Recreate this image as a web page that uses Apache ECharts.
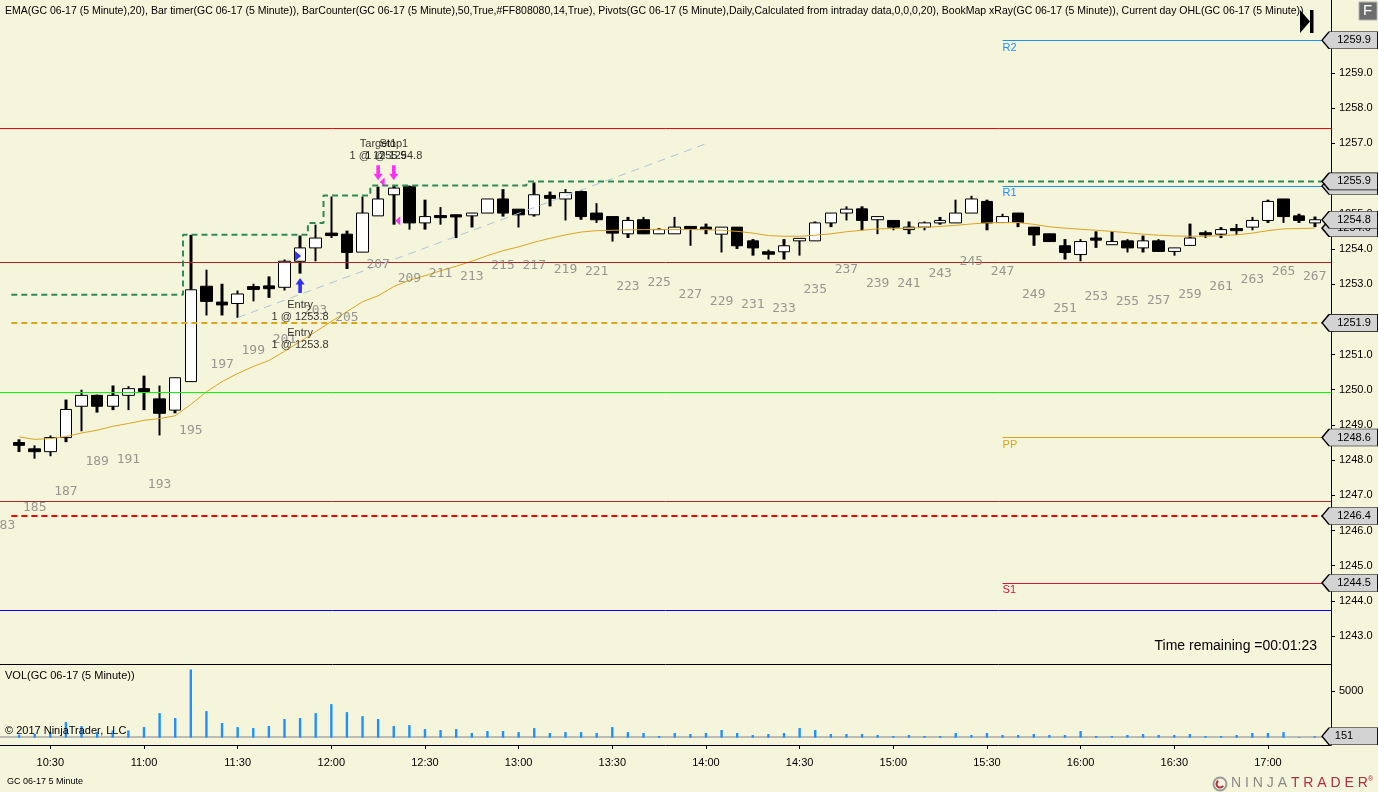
<!DOCTYPE html>
<html>
<head>
<meta charset="utf-8">
<script src="https://cdn.jsdelivr.net/npm/echarts@6/dist/echarts.min.js"></script>
<style>
html,body{margin:0;padding:0;background:#f5f5dc;}
#c{width:1378px;height:792px;}
</style>
</head>
<body>
<div id="c"></div>
<script>
// ---------------- DATA ----------------
const firstBar = 184;
const opens = [1248.50,1248.32,1248.24,1248.64,1249.53,1249.84,1249.53,1249.84,1250.03,1249.74,1249.42,1250.23,1252.94,1252.49,1252.45,1252.93,1252.95,1252.91,1253.65,1254.03,1254.45,1254.42,1253.91,1254.94,1255.54,1255.77,1254.74,1254.95,1254.97,1254.94,1255.02,1255.42,1255.13,1254.97,1255.52,1255.42,1255.63,1255.02,1254.92,1254.43,1254.83,1254.43,1254.43,1254.64,1254.62,1254.42,1254.62,1254.23,1253.92,1253.92,1254.23,1254.23,1254.74,1255.02,1255.14,1254.83,1254.81,1254.55,1254.62,1254.74,1254.74,1255.02,1255.35,1254.75,1255.02,1254.62,1254.43,1254.09,1253.84,1254.31,1254.12,1254.23,1254.03,1254.23,1253.93,1254.10,1254.46,1254.42,1254.58,1254.62,1254.81,1255.42,1254.94,1254.74];
const highs = [1248.59,1248.42,1248.70,1249.72,1250.00,1249.86,1250.12,1250.10,1250.40,1250.12,1250.34,1254.40,1253.41,1253.01,1252.82,1253.01,1253.22,1253.70,1254.38,1254.69,1255.49,1254.52,1255.49,1255.77,1255.80,1255.80,1255.40,1255.19,1254.97,1255.02,1255.42,1255.70,1255.13,1255.89,1255.63,1255.70,1255.66,1255.30,1254.92,1254.91,1254.91,1254.59,1254.91,1254.64,1254.72,1254.62,1254.62,1254.28,1253.98,1254.28,1254.30,1254.78,1255.02,1255.21,1255.21,1254.92,1254.81,1254.78,1254.78,1254.91,1255.40,1255.51,1255.40,1255.00,1255.02,1254.62,1254.43,1254.28,1254.28,1254.50,1254.50,1254.28,1254.38,1254.28,1254.03,1254.72,1254.52,1254.62,1254.71,1254.91,1255.40,1255.42,1255.00,1254.92];
const lows = [1248.23,1248.04,1248.11,1248.51,1248.82,1249.35,1249.42,1249.42,1249.42,1248.70,1249.33,1250.23,1252.11,1252.11,1252.04,1252.51,1252.61,1252.82,1253.30,1253.65,1254.31,1253.43,1253.91,1254.94,1254.69,1254.55,1254.55,1254.69,1254.31,1254.61,1255.02,1254.92,1254.61,1254.92,1255.21,1254.81,1254.83,1254.74,1254.21,1254.31,1254.43,1254.43,1254.43,1254.09,1254.42,1253.90,1254.00,1253.81,1253.70,1253.70,1253.81,1254.23,1254.62,1254.81,1254.53,1254.42,1254.53,1254.42,1254.53,1254.69,1254.74,1255.02,1254.53,1254.75,1254.62,1254.09,1254.21,1253.70,1253.65,1254.03,1254.12,1253.90,1253.90,1253.93,1253.81,1254.10,1254.31,1254.31,1254.40,1254.53,1254.74,1254.74,1254.74,1254.62];
const closes = [1248.42,1248.24,1248.64,1249.44,1249.84,1249.53,1249.84,1250.03,1249.95,1249.33,1250.34,1252.84,1252.51,1252.41,1252.72,1252.85,1252.87,1253.65,1254.03,1254.31,1254.38,1253.90,1255.02,1255.42,1255.73,1254.74,1254.92,1254.89,1254.91,1255.02,1255.42,1255.02,1254.97,1255.54,1255.44,1255.60,1254.92,1254.83,1254.45,1254.81,1254.43,1254.55,1254.62,1254.58,1254.55,1254.62,1254.09,1254.03,1253.85,1254.09,1254.30,1254.74,1255.02,1255.13,1254.81,1254.92,1254.62,1254.62,1254.74,1254.81,1255.02,1255.42,1254.74,1254.92,1254.75,1254.40,1254.21,1253.90,1254.21,1254.25,1254.21,1254.03,1254.23,1253.93,1254.03,1254.31,1254.40,1254.55,1254.52,1254.81,1255.35,1254.92,1254.81,1254.83];
const volumes = [320,430,600,1670,1250,600,780,780,1140,2630,2100,7300,2850,1570,1140,1030,1250,2000,2100,2630,3600,2740,2310,2000,1250,1350,925,820,925,500,710,710,600,1030,500,600,600,500,1140,600,500,180,500,390,500,820,500,285,390,500,1030,820,390,390,390,285,180,285,180,180,500,285,500,285,285,390,285,285,710,180,180,285,390,285,285,390,180,180,285,500,500,600,70,151];
const ema20 = [1248.66,1248.59,1248.61,1248.67,1248.77,1248.85,1248.96,1249.04,1249.13,1249.18,1249.26,1249.58,1249.94,1250.23,1250.46,1250.66,1250.83,1251.09,1251.37,1251.65,1251.94,1252.22,1252.50,1252.67,1252.93,1253.11,1253.24,1253.38,1253.51,1253.65,1253.81,1253.95,1254.06,1254.19,1254.30,1254.40,1254.48,1254.52,1254.53,1254.54,1254.55,1254.55,1254.55,1254.55,1254.55,1254.53,1254.50,1254.45,1254.38,1254.36,1254.36,1254.39,1254.43,1254.49,1254.53,1254.57,1254.58,1254.59,1254.61,1254.64,1254.67,1254.71,1254.74,1254.75,1254.75,1254.70,1254.63,1254.59,1254.56,1254.53,1254.50,1254.46,1254.42,1254.39,1254.37,1254.36,1254.36,1254.38,1254.40,1254.45,1254.52,1254.57,1254.58,1254.59];
const priorBarNo = 183, priorBarLow = 1247.52;

const timeBars = [186,192,198,204,210,216,222,228,234,240,246,252,258,264];
const timeLabels = ['10:30','11:00','11:30','12:00','12:30','13:00','13:30','14:00','14:30','15:00','15:30','16:00','16:30','17:00'];
const priceTicks = [1243,1244,1245,1246,1247,1248,1249,1250,1251,1252,1253,1254,1255,1256,1257,1258,1259];
const volTicks = [5000];

// highest-high step line (bar boundary, level)
const stepBars = [183.5,194.5,202.5,203.5,206.5,216.5];
const stepLevels = [1252.70,1254.40,1254.74,1255.52,1255.80,1255.92];
// trend line
const trendBars = [198,228];
const trendPrices = [1252.05,1256.99];
// pivots
const pivotNames = ['R2','R1','PP','S1'];
const pivotValues = [1259.93,1255.79,1248.64,1244.51];
const pivotStartBar = 247;
// dashed levels
const dashedLevels = [1251.9,1246.41];
const dashedStartBar = 183.5;
// full-width day levels
const dayLevels = [1257.44,1253.63,1249.935,1246.84,1243.74];
const lastVolume = 151;

// trades
const entryBar = 202, entryPrice = 1253.8, entryQty = [1,1];
const exitNames = ['Target1','Stop1'];
const exitBars = [207,208];
const exitPrices = [1255.9,1254.8];

// ---------------- BUILD ----------------
const xMin = 182.776, xMax = 268.04;
const barNo = opens.map((_, i) => firstBar + i);
const idx = b => b - firstBar;

const bodyData = barNo.map((b, i) => [b, opens[i], closes[i], Math.min(opens[i], closes[i]), Math.max(opens[i], closes[i])]);
const wickData = barNo.map((b, i) => [b, lows[i], highs[i], lows[i], highs[i]]);
const emaData = barNo.map((b, i) => [b, ema20[i]]);
const volData = barNo.map((b, i) => [b, volumes[i]]);
const stepData = stepBars.map((b, i) => [b, stepLevels[i]]).concat([[xMax, stepLevels[stepLevels.length - 1]]]);
const trendData = trendBars.map((b, i) => [b, trendPrices[i]]);

const counterData = [[priorBarNo, priorBarLow, priorBarNo]];
barNo.forEach((b, i) => { if (b % 2 === 1) counterData.push([b, lows[i], b]); });

const pivotColors = ['#1e90ff', '#1e90ff', '#daa520', '#dc143c'];
const dayColors = ['#ff0000', '#b22222', '#00ff00', '#a52a2a', '#0000ff'];
const dashedColors = ['#daa520', '#ff0000'];

const markLines = [];
dayLevels.forEach((v, i) => markLines.push({ yAxis: v, lineStyle: { color: dayColors[i], width: 1, type: 'solid' } }));
pivotValues.forEach((v, i) => markLines.push([
  { coord: [pivotStartBar, v], lineStyle: { color: pivotColors[i], width: 1, type: 'solid' },
    label: { show: true, formatter: pivotNames[i], position: 'insideStartBottom', color: pivotColors[i], fontSize: 11, fontFamily: 'Liberation Sans, Arial', distance: [0, 2] } },
  { coord: [xMax, v] }
]));
dashedLevels.forEach((v, i) => markLines.push([
  { coord: [dashedStartBar, v], lineStyle: { color: dashedColors[i], width: 2, type: [6, 4] } },
  { coord: [xMax, v] }
]));

const flagPath = 'path://M0,8 L7,0 L55,0 L55,16 L7,16 Z';
// flags partly hidden behind others
const backFlagValues = [pivotValues[1], ema20[ema20.length - 1]];
// flags in front
const frontFlagValues = [pivotValues[0], stepLevels[stepLevels.length - 1], closes[closes.length - 1], dashedLevels[0], pivotValues[2], dashedLevels[1], pivotValues[3]];
const toFlag = v => ({ coord: [xMax, v], value: v.toFixed(1) });

const FONT = 'Liberation Sans, Arial, sans-serif';
const flagMark = (data, z) => ({ z: z, silent: true, symbol: flagPath, symbolSize: [56, 17], symbolOffset: [19, 0], symbolKeepAspect: false,
  itemStyle: { color: '#d3d3d3', borderColor: '#000', borderWidth: 1 },
  label: { show: true, position: 'inside', offset: [4, 0], color: '#000', fontSize: 11, fontFamily: FONT, formatter: p => p.value },
  data: data });

const lowEntry = lows[idx(entryBar)];
const entryTextData = entryQty.map((q, k) => ({ value: [entryBar, lowEntry], label: { formatter: 'Entry\n' + q + ' @ ' + entryPrice.toFixed(1), offset: [0, 37 + 28 * k] } }));
const exitTextData = exitNames.map((n, k) => ({ value: [exitBars[k], highs[idx(exitBars[0])]], label: { formatter: n + '\n1 @ ' + exitPrices[k].toFixed(1), offset: [0, -37] } }));

const legendText = 'EMA(GC 06-17 (5 Minute),20), Bar timer(GC 06-17 (5 Minute)), BarCounter(GC 06-17 (5 Minute),50,True,#FF808080,14,True), Pivots(GC 06-17 (5 Minute),Daily,Calculated from intraday data,0,0,0,20), BookMap xRay(GC 06-17 (5 Minute)), Current day OHL(GC 06-17 (5 Minute))';

const option = {
  animation: false,
  backgroundColor: '#f5f5dc',
  grid: [
    { left: 0, right: 47, top: 0, bottom: 128 },
    { left: 0, right: 47, top: 664, bottom: 47 }
  ],
  xAxis: [
    { type: 'value', gridIndex: 0, min: xMin, max: xMax, position: 'bottom',
      axisLine: { show: true, onZero: false, lineStyle: { color: '#000', width: 1 } },
      axisTick: { show: false }, axisLabel: { show: false }, splitLine: { show: false } },
    { type: 'value', gridIndex: 1, min: xMin, max: xMax, position: 'bottom',
      axisLine: { show: true, onZero: false, lineStyle: { color: '#000', width: 1 } },
      axisTick: { show: true, inside: false, length: 4, customValues: timeBars, lineStyle: { color: '#000' } },
      axisLabel: { show: true, customValues: timeBars, margin: 12, color: '#000', fontSize: 11, fontFamily: FONT,
        formatter: v => { const k = timeBars.indexOf(Math.round(v)); return k >= 0 ? timeLabels[k] : ''; } },
      splitLine: { show: false } }
  ],
  yAxis: [
    { type: 'value', gridIndex: 0, position: 'right', min: 1242.206, max: 1261.074,
      axisLine: { show: true, lineStyle: { color: '#000', width: 1 } },
      axisTick: { show: true, length: 4, customValues: priceTicks, lineStyle: { color: '#000' } },
      axisLabel: { show: true, customValues: priceTicks, margin: 8, color: '#000', fontSize: 11, fontFamily: FONT, formatter: v => v.toFixed(1) },
      splitLine: { show: false } },
    { type: 'value', gridIndex: 1, position: 'right', min: -782, max: 7891,
      axisLine: { show: true, lineStyle: { color: '#000', width: 1 } },
      axisTick: { show: true, length: 4, customValues: volTicks, lineStyle: { color: '#000' } },
      axisLabel: { show: true, customValues: volTicks, margin: 8, color: '#000', fontSize: 11, fontFamily: FONT, formatter: v => String(v) },
      splitLine: { show: false } }
  ],
  series: [
    { name: 'wicks', type: 'candlestick', xAxisIndex: 0, yAxisIndex: 0, data: wickData, encode: { x: 0, y: [1, 2, 3, 4] },
      barWidth: 3, z: 2, silent: true,
      itemStyle: { color: '#000', color0: '#000', borderColor: '#000', borderColor0: '#000', borderWidth: 0 } },
    { name: 'bodies', type: 'candlestick', xAxisIndex: 0, yAxisIndex: 0, data: bodyData, encode: { x: 0, y: [1, 2, 3, 4] },
      barWidth: 12, z: 3, silent: true,
      itemStyle: { color: '#ffffff', color0: '#000000', borderColor: '#000', borderColor0: '#000', borderWidth: 1 } },
    { name: 'EMA', type: 'line', xAxisIndex: 0, yAxisIndex: 0, data: emaData, showSymbol: false, z: 4, silent: true,
      lineStyle: { color: '#daa520', width: 1 },
      markLine: { silent: true, symbol: ['none', 'none'], animation: false, label: { show: false }, data: markLines } },
    { name: 'step', type: 'line', xAxisIndex: 0, yAxisIndex: 0, data: stepData, step: 'end', showSymbol: false, z: 5, silent: true,
      lineStyle: { color: '#2e8b57', width: 2, type: [6, 4] } },
    { name: 'trend', type: 'line', xAxisIndex: 0, yAxisIndex: 0, data: trendData, showSymbol: false, z: 5, silent: true,
      lineStyle: { color: '#b0c4de', width: 1, type: [8, 6] } },
    { name: 'counter', type: 'scatter', xAxisIndex: 0, yAxisIndex: 0, data: counterData, symbolSize: 0, z: 6, silent: true,
      label: { show: true, position: 'inside', offset: [0, 49], formatter: p => String(p.value[2]), color: '#808080', fontSize: 13, fontFamily: 'DejaVu Sans Mono, monospace' } },
    { name: 'entryArrow', type: 'scatter', xAxisIndex: 0, yAxisIndex: 0, data: [[entryBar, lowEntry]], z: 7, silent: true,
      symbol: 'path://M5,0 L10,6 L7,6 L7,14 L3,14 L3,6 L0,6 Z', symbolSize: [9, 15], symbolOffset: [0, 12], itemStyle: { color: '#0000ff' } },
    { name: 'entryFill', type: 'scatter', xAxisIndex: 0, yAxisIndex: 0, data: [[entryBar, entryPrice]], z: 7, silent: true,
      symbol: 'path://M0,0 L10,6 L0,12 Z', symbolSize: [6, 10], symbolOffset: [-2, 0], itemStyle: { color: '#0000ff' } },
    { name: 'exitArrow', type: 'scatter', xAxisIndex: 0, yAxisIndex: 0, data: exitBars.map(b => [b, highs[idx(exitBars[0])]]), z: 7, silent: true,
      symbol: 'path://M3,0 L7,0 L7,8 L10,8 L5,14 L0,8 L3,8 Z', symbolSize: [9, 15], symbolOffset: [0, -14], itemStyle: { color: '#ff00ff' } },
    { name: 'exitFill', type: 'scatter', xAxisIndex: 0, yAxisIndex: 0, data: exitBars.map((b, k) => [b, exitPrices[k]]), z: 7, silent: true,
      symbol: 'path://M10,0 L0,6 L10,12 Z', symbolSize: [5, 9], symbolOffset: [4, 0], itemStyle: { color: '#ff00ff' } },
    { name: 'tradeText', type: 'scatter', xAxisIndex: 0, yAxisIndex: 0, data: entryTextData.concat(exitTextData), symbolSize: 0, z: 8, silent: true,
      label: { show: true, position: 'inside', color: '#000', fontSize: 11, lineHeight: 12, fontFamily: FONT, align: 'center' } },
    { name: 'flagsBack', type: 'line', xAxisIndex: 0, yAxisIndex: 0, data: [], z: 9, silent: true, markPoint: flagMark(backFlagValues.map(toFlag), 9) },
    { name: 'flagsFront', type: 'line', xAxisIndex: 0, yAxisIndex: 0, data: [], z: 10, silent: true, markPoint: flagMark(frontFlagValues.map(toFlag), 10) },
    { name: 'volLast', type: 'line', xAxisIndex: 1, yAxisIndex: 1, data: [], z: 1, silent: true,
      markLine: { z: 1, silent: true, symbol: ['none', 'none'], label: { show: false }, lineStyle: { color: '#a9a9a9', width: 1.5, type: 'solid' },
        data: [{ yAxis: lastVolume }] } },
    { name: 'VOL', type: 'bar', xAxisIndex: 1, yAxisIndex: 1, data: volData, barWidth: 2.4, z: 3, silent: true,
      itemStyle: { color: '#1e90ff' },
      markPoint: { z: 10, silent: true, symbol: flagPath, symbolSize: [56, 17], symbolOffset: [19, 0], symbolKeepAspect: false,
        itemStyle: { color: '#d3d3d3', borderColor: '#000', borderWidth: 1 },
        label: { show: true, position: 'inside', offset: [-6, 0], color: '#000', fontSize: 11, fontFamily: FONT, formatter: p => p.value },
        data: [{ coord: [xMax, lastVolume], value: String(lastVolume) }] } }
  ],
  graphic: [
    { type: 'text', left: 5, top: 6, z: 20, style: { text: legendText, font: '10.5px ' + FONT, fill: '#000' } },
    { type: 'text', left: 5, top: 670, z: 20, style: { text: 'VOL(GC 06-17 (5 Minute))', font: '11px ' + FONT, fill: '#000' } },
    { type: 'text', left: 5, top: 725, z: 20, style: { text: '\u00a9 2017 NinjaTrader, LLC', font: '11px ' + FONT, fill: '#000' } },
    { type: 'text', right: 61, top: 639, z: 20, style: { text: 'Time remaining =00:01:23', font: '14px ' + FONT, fill: '#000' } },
    { type: 'text', left: 7, top: 777, z: 20, style: { text: 'GC 06-17 5 Minute', font: '9px ' + FONT, fill: '#000' } },
    { type: 'polygon', z: 20, shape: { points: [[1300, 10], [1310, 21.5], [1300, 33]] }, style: { fill: '#000' } },
    { type: 'rect', z: 20, shape: { x: 1310, y: 10, width: 3.5, height: 23 }, style: { fill: '#000' } },
    { type: 'rect', z: 20, shape: { x: 1359, y: 2, width: 18, height: 18 }, style: { fill: '#6d6d6d', stroke: '#b0b0b0', lineWidth: 1 } },
    { type: 'text', z: 21, left: 1363, top: 3, style: { text: 'F', font: '15px ' + FONT, fill: '#fff' } },
    { type: 'circle', z: 20, shape: { cx: 1220, cy: 784, r: 6.5 }, style: { fill: 'none', stroke: '#9a9a9a', lineWidth: 2 } },
    { type: 'arc', z: 21, shape: { cx: 1220, cy: 784, r: 3.5, startAngle: 0.5, endAngle: 4.2 }, style: { fill: 'none', stroke: '#b03040', lineWidth: 2 } },
    { type: 'text', z: 20, left: 1231, top: 776, style: { rich: { a: { fill: '#8a8a8a', font: '14px ' + FONT }, b: { fill: '#b03040', font: '14px ' + FONT }, c: { fill: '#b03040', font: '7px ' + FONT, verticalAlign: 'top' } },
      text: '{a|N I N J A }{b|T R A D E R}{c|\u00ae}' } }
  ]
};

const chart = echarts.init(document.getElementById('c'), null, { renderer: 'canvas' });
chart.setOption(option);
</script>
</body>
</html>
